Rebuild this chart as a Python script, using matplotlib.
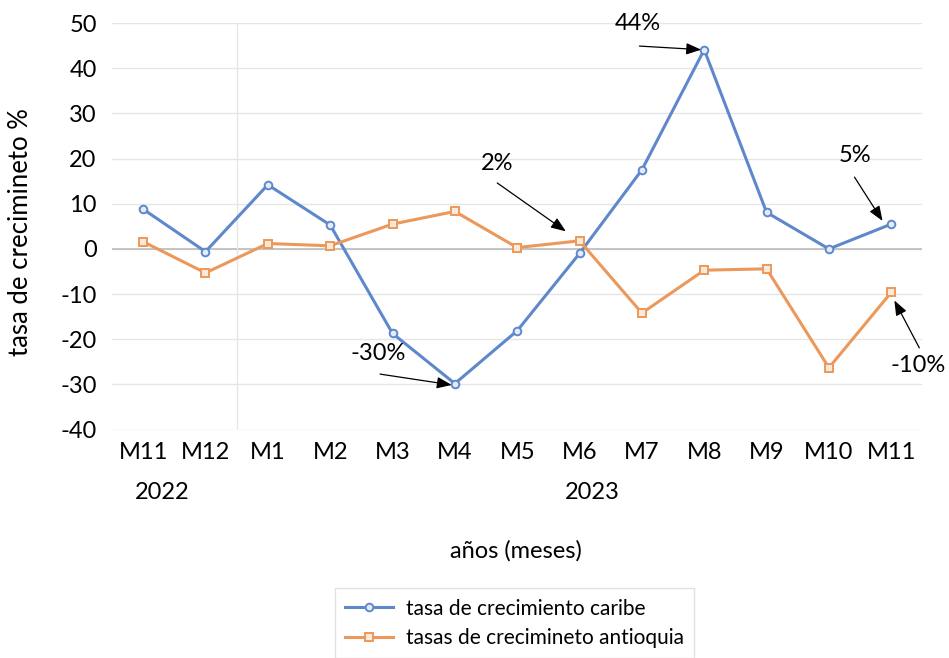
import matplotlib.pyplot as plt
import numpy as np

plt.rcParams["font.family"] = ["Lato", "DejaVu Sans"]
plt.rcParams["axes.unicode_minus"] = False

months = ["M11", "M12", "M1", "M2", "M3", "M4", "M5", "M6", "M7", "M8", "M9", "M10", "M11"]
years = ["2022", "2023"]
caribe = [8.8, -0.6, 14.2, 5.3, -18.7, -29.8, -18.1, -1.0, 17.5, 44.1, 8.1, 0.0, 5.5]
antioquia = [1.6, -5.3, 1.2, 0.7, 5.5, 8.3, 0.3, 1.8, -14.2, -4.7, -4.4, -26.3, -9.6]
note_labels = ["44%", "2%", "-30%", "5%", "-10%"]

# where the labels sit and where their arrows start/end (index units, %)
note_text = [(7.94, 49.8), (5.68, 19.0), (3.77, -23.2), (11.42, 20.6), (12.43, -25.9)]
note_tail = [(7.96, 44.9), (5.68, 14.6), (3.80, -27.7), (11.41, 15.9), (12.45, -21.9)]
note_head = [(8.95, 44.1), (6.78, 3.9), (4.95, -30.1), (11.86, 6.2), (12.05, -11.4)]

BLUE = "#5f88cc"
ORANGE = "#ec985a"
FS = 17

fig = plt.figure(figsize=(9.49, 6.58), dpi=100)
ax = fig.add_axes([0.118, 0.347, 0.854, 0.618])

x = np.arange(len(months))
ax.plot(x, caribe, color=BLUE, lw=2.2, marker="o", ms=5.5, mfc="#e6ecf7", mec=BLUE, mew=1.4,
        label="tasa de crecimiento caribe", zorder=3)
ax.plot(x, antioquia, color=ORANGE, lw=2.2, marker="s", ms=5.5, mfc="#fbeadc", mec=ORANGE, mew=1.4,
        label="tasas de crecimineto antioquia", zorder=3)

ax.set_xlim(-0.5, len(months) - 0.5)
ax.set_ylim(-40, 50)
ax.set_yticks(np.arange(-40, 51, 10))
ax.yaxis.grid(True, color="#e6e6e6", lw=1)
ax.axhline(0, color="#bcbcbc", lw=1.2, zorder=1)
ax.axvline(1.5, color="#e6e6e6", lw=1, zorder=1)
ax.set_axisbelow(True)
for s in ax.spines.values():
    s.set_visible(False)
ax.tick_params(length=0, labelsize=FS)
ax.tick_params(axis="x", pad=9)
ax.tick_params(axis="y", pad=11)
ax.set_xticks(x)
ax.set_xticklabels(months)

trans = ax.get_xaxis_transform()
ax.text(0.3, -0.155, years[0], transform=trans, ha="center", va="center", fontsize=FS)
ax.text(7.2, -0.155, years[1], transform=trans, ha="center", va="center", fontsize=FS)

ax.set_ylabel("tasa de crecimineto %", fontsize=18.5)
ax.yaxis.set_label_coords(-0.098, 0.485)
fig.text(0.544, 0.163, "años (meses)", ha="center", va="center", fontsize=FS)

for lab, (tx, ty), tail, head in zip(note_labels, note_text, note_tail, note_head):
    ax.text(tx, ty, lab, ha="center", va="center", fontsize=FS)
    ax.annotate("", xy=head, xytext=tail,
                arrowprops=dict(arrowstyle="-|>,head_length=0.9,head_width=0.35", color="black", lw=0.9,
                                shrinkA=0, shrinkB=0))

leg = fig.legend(loc="upper left", bbox_to_anchor=(0.353, 0.106), fontsize=15, frameon=True,
                 fancybox=False, edgecolor="#d9d9d9", handlelength=2.3, handletextpad=0.6,
                 borderpad=0.5, labelspacing=0.45, borderaxespad=0)
leg.get_frame().set_linewidth(1)

fig.savefig("out.png", dpi=100)
